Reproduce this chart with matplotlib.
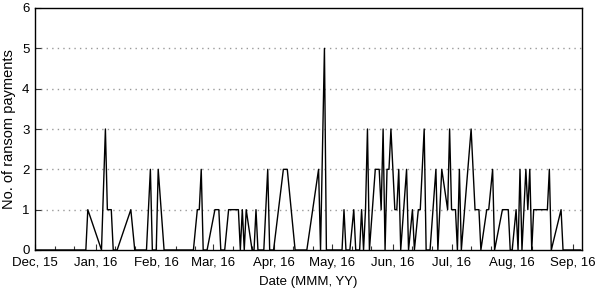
import matplotlib
matplotlib.use("Agg")
import matplotlib.pyplot as plt
import matplotlib.dates as mdates
from datetime import datetime, timedelta

# days since 2015-12-01 and number of ransom payments on that day
day_offset = [0, 26, 27, 34, 36, 37, 39, 40, 42, 49, 51, 57, 59, 60, 62, 63, 66,
              81, 83, 84, 85, 86, 88, 92, 94, 95, 97, 99, 104, 105, 106, 107, 108, 111, 112, 113, 114,
              117, 119, 120, 122, 127, 129, 133, 139, 145, 146, 148, 149,
              157, 158, 159, 161, 163, 164, 166, 167, 168, 169, 170, 171, 174, 176, 177, 178, 179,
              180, 181, 182, 184, 185, 186, 187, 190, 191, 193, 194, 196, 197, 199, 200,
              202, 205, 206, 208, 211, 212, 213, 215, 216, 217, 218, 223, 225, 227, 228, 231, 232,
              234, 235, 239, 242, 243, 244, 246, 247, 248, 249, 251, 252, 253, 254, 255, 262, 263,
              264, 269, 270, 279]
payments = [0, 0, 1, 0, 3, 1, 1, 0, 0, 1, 0, 0, 2, 0, 0, 2, 0,
            0, 1, 1, 2, 0, 0, 1, 1, 0, 0, 1, 1, 0, 1, 0, 1, 0, 0, 1, 0,
            0, 2, 0, 0, 2, 2, 0, 0, 2, 0, 5, 0,
            0, 1, 0, 0, 1, 0, 0, 1, 0, 1, 3, 0, 2, 2, 1, 3, 0,
            2, 2, 3, 1, 1, 2, 0, 2, 0, 1, 0, 1, 1, 3, 0,
            0, 2, 0, 2, 1, 3, 1, 1, 0, 2, 0, 3, 1, 1, 0, 1, 1,
            2, 0, 1, 1, 0, 0, 1, 0, 2, 0, 2, 1, 2, 0, 1, 1, 2,
            0, 1, 0, 0]

start = datetime(2015, 12, 1)
dates = [start + timedelta(days=d) for d in day_offset]

plt.rcParams['font.family'] = ['Liberation Sans', 'DejaVu Sans']

fig = plt.figure(figsize=(5.98, 2.94), dpi=100)
ax = fig.add_axes([35/598, 1-250/294, (582-35)/598, (250-8)/294])

ax.plot(dates, payments, color='black', lw=1.0, zorder=3)

ax.set_xlim(start, start + timedelta(days=279.7))
ax.set_ylim(0, 6)
ax.set_yticks(range(0, 7))
for yv in range(1, 6):
    ax.axhline(yv, color='#9a9a9a', lw=1.0, linestyle=(0, (1, 3)), zorder=1)

ax.xaxis.set_major_locator(mdates.MonthLocator())
ax.xaxis.set_major_formatter(mdates.DateFormatter('%b, %y'))
ax.xaxis.set_minor_locator(mdates.DayLocator(bymonthday=[11, 21]))

ax.tick_params(axis='both', which='major', direction='in', length=4, width=0.8,
               labelsize=9.5, colors='#333333', labelcolor='black')
ax.tick_params(axis='x', which='minor', direction='in', length=3, width=0.8, colors='#333333')
ax.tick_params(axis='x', which='major', pad=5)
ax.tick_params(axis='y', which='major', pad=4)

for s in ax.spines.values():
    s.set_linewidth(1.0)
    s.set_color('black')

ax.set_xlabel('Date (MMM, YY)', fontsize=9.5, labelpad=5)
ax.set_ylabel('No. of ransom payments', fontsize=10.5, labelpad=4)

fig.savefig('out.png', dpi=100)
